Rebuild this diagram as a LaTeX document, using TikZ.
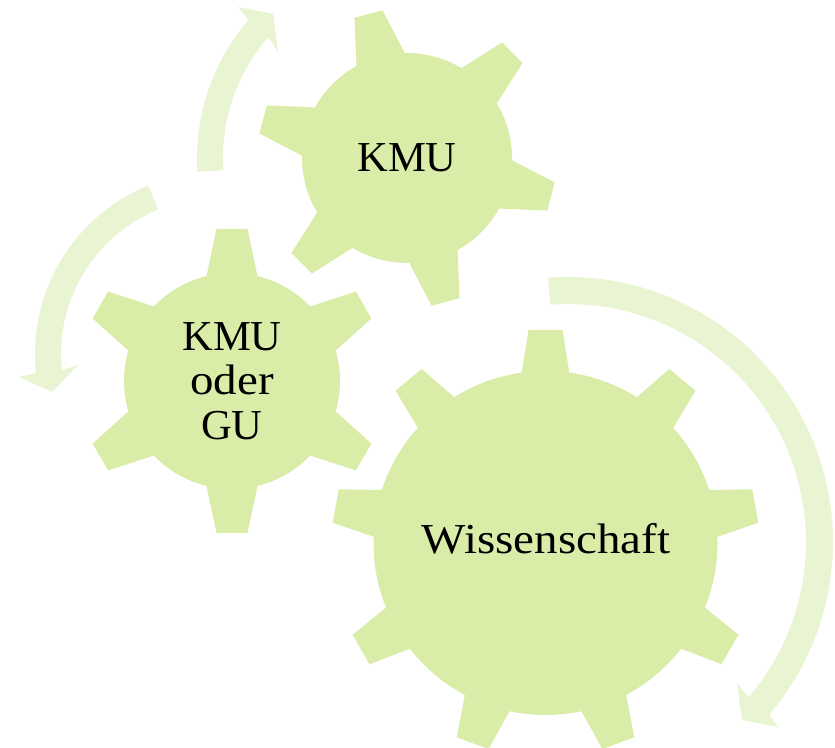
\documentclass[tikz,border=0pt]{standalone}
\usepackage{fontspec}
\setmainfont{Liberation Serif}
\newfontfamily\widerserif[FakeStretch=1.1]{Liberation Serif}
\usetikzlibrary{calc}
\definecolor{gearfill}{HTML}{D9EDA8}
\definecolor{arrowfill}{HTML}{E9F4D3}
\tikzset{
  gearpart/.style={fill=gearfill,draw=none},
  flow/.style={fill=arrowfill,draw=none},
  label/.style={font=\fontsize{32}{33}\selectfont,align=center,text=black,inner sep=0pt},
}
% center, body radius, tip radius, base half width, tip half width, tooth angle list
\newcommand{\gearshape}[6]{%
  \fill[gearpart] (#1) circle[radius=#2];
  \foreach \a in {#6}{%
    \fill[gearpart,shift={(#1)},rotate=\a] (#2-12,-#4) -- (#2-3,-#4) -- (#3,-#5) -- (#3,#5) -- (#2-3,#4) -- (#2-12,#4) -- cycle;
  }%
}
\begin{document}
\begin{tikzpicture}[x=0.75pt,y=0.75pt]
\useasboundingbox (0,0) rectangle (835,748);
\coordinate (gA) at (407,590);
\coordinate (gB) at (232,367);
\coordinate (gC) at (545.5,205);
\coordinate (fA) at (407,590);
\coordinate (fB) at (217,394);
\coordinate (fC) at (568,206);
% arrows
\fill[flow] ($(fC)+(94.3:265)$) arc[start angle=94.3,end angle=-40.6,radius=265]
  -- (778,21) -- (742,28) -- (737,65) -- ($(fC)+(-40.6:238)$)
  arc[start angle=-40.6,end angle=94.3,radius=238] -- cycle;
\fill[flow] ($(fA)+(183.8:210)$) arc[start angle=183.8,end angle=139,radius=210]
  -- (238,741) -- (273,734) -- (278,696) -- ($(fA)+(139:184)$)
  arc[start angle=139,end angle=183.8,radius=184] -- cycle;
\fill[flow] ($(fB)+(112.2:182)$) arc[start angle=112.2,end angle=186,radius=182]
  -- (19,371) -- (52,356) -- (78,383) -- ($(fB)+(186:156)$)
  arc[start angle=186,end angle=112.2,radius=156] -- cycle;
% gears
\gearshape{gA}{105}{149}{25}{14.5}{105,45,-15,-75,-135,165}
\gearshape{gB}{108}{152}{25.5}{15.5}{90,30,-30,-90,-150,150}
\gearshape{gC}{172}{213}{24}{17}{90,50,10,-30,-70,-110,-150,170,130}
% labels
\node[label] (kmu) at (407,590) {KMU};
\node[label] (kmugu) at (232,367) {KMU\\[0.4pt]{\widerserif oder}\\[0.4pt]GU};
\node[label] (wiss) at (546,209) {\widerserif Wissenschaft};
\end{tikzpicture}
\end{document}
